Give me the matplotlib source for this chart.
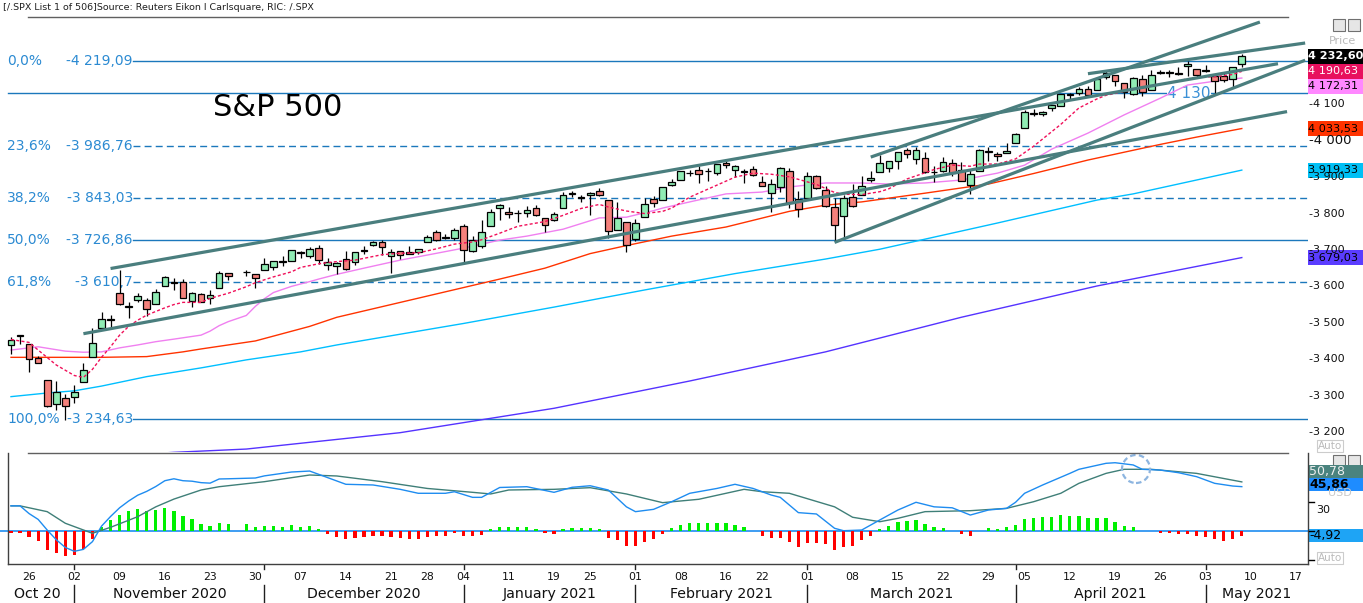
import numpy as np
import pandas as pd
import matplotlib
matplotlib.use("Agg")
import matplotlib.pyplot as plt
from matplotlib.patches import Rectangle, Ellipse
from matplotlib.transforms import blended_transform_factory

plt.rcParams['font.family'] = ['DejaVu Sans']

W, H, DPI = 1363, 603, 100

# ------------------------------------------------------------------ data
first_day, last_day = '2020-10-22', '2021-05-07'
market_holidays = ['2020-11-26', '2020-12-25', '2021-01-01', '2021-01-18', '2021-02-15', '2021-04-02']
axis_blank_days = ['2020-11-26']          # shown as an empty slot on the time axis

opens = [3438.5, 3464.9, 3441.4, 3403.2, 3342.5, 3277.2, 3293.6,
         3296.2, 3336.3, 3406.5, 3485.7, 3508.3,
         3583.0, 3543.3, 3563.2, 3562.7, 3552.6,
         3600.2, 3610.3, 3612.1, 3559.4, 3579.3,
         3566.8, 3594.5, 3635.5, 3638.6,
         3634.2, 3645.9, 3653.8, 3668.3, 3670.9,
         3694.7, 3683.1, 3706.0, 3659.1, 3656.1,
         3675.3, 3666.4, 3696.2, 3713.7, 3722.4,
         3684.3, 3698.1, 3693.4, 3694.0,
         3723.0, 3750.0, 3736.2, 3733.3,
         3764.6, 3698.0, 3712.2, 3764.7, 3815.1,
         3803.1, 3801.6, 3802.2, 3815.0, 3788.7,
         3781.9, 3816.2, 3857.5, 3844.2,
         3851.7, 3863.0, 3836.8, 3755.8, 3778.1,
         3731.2, 3791.8, 3840.3, 3836.7, 3878.3,
         3892.6, 3910.5, 3920.8, 3916.4, 3911.7,
         3939.6, 3918.5, 3915.9, 3921.2,
         3885.6, 3857.1, 3873.7, 3915.8, 3839.7,
         3842.5, 3903.6, 3864.0, 3818.5, 3793.6,
         3844.4, 3851.9, 3892.0, 3915.5, 3924.5,
         3943.0, 3973.6, 3949.6, 3953.5, 3913.1,
         3916.5, 3937.6, 3919.9, 3879.3, 3917.1,
         3969.3, 3963.3, 3967.3, 3992.8,
         4034.4, 4075.6, 4074.3, 4090.0, 4096.1,
         4124.7, 4130.1, 4141.6, 4139.8, 4174.1,
         4179.8, 4159.2, 4128.4, 4170.5, 4138.8,
         4185.0, 4188.3, 4185.1, 4206.1, 4198.1,
         4192.0, 4179.0, 4177.1, 4169.1, 4210.3]
highs = [3460.5, 3466.5, 3441.4, 3409.5, 3342.5, 3341.1, 3304.9,
         3330.1, 3389.5, 3486.3, 3529.1, 3521.6,
         3646.0, 3557.2, 3581.2, 3569.0, 3593.7,
         3628.5, 3623.1, 3619.1, 3585.2, 3581.2,
         3589.8, 3642.3, 3635.5, 3644.3,
         3634.2, 3678.5, 3671.0, 3682.7, 3699.2,
         3697.4, 3708.5, 3712.4, 3678.5, 3665.9,
         3697.6, 3695.3, 3711.3, 3725.1, 3726.7,
         3702.9, 3698.3, 3711.2, 3703.8,
         3740.5, 3756.1, 3744.6, 3760.2,
         3770.0, 3737.8, 3783.0, 3811.6, 3826.7,
         3817.9, 3810.8, 3821.0, 3823.6, 3788.7,
         3804.5, 3859.8, 3861.5, 3852.3,
         3859.2, 3870.9, 3836.8, 3830.5, 3778.1,
         3784.3, 3843.1, 3847.5, 3872.4, 3894.6,
         3915.8, 3918.4, 3931.5, 3926.0, 3937.2,
         3950.4, 3933.6, 3922.0, 3930.4,
         3902.9, 3896.0, 3928.7, 3925.0, 3861.1,
         3914.5, 3906.4, 3874.5, 3843.7, 3851.7,
         3881.1, 3903.8, 3917.4, 3960.3, 3945.0,
         3970.1, 3981.0, 3983.9, 3969.6, 3930.1,
         3955.3, 3949.1, 3942.1, 3919.5, 3978.2,
         3981.8, 3968.0, 3994.4, 4020.6,
         4083.4, 4086.2, 4083.1, 4098.2, 4129.5,
         4131.8, 4148.0, 4151.7, 4173.5, 4191.3,
         4180.8, 4159.2, 4175.0, 4179.6, 4194.2,
         4194.2, 4193.4, 4201.5, 4218.8, 4198.1,
         4209.4, 4179.0, 4187.7, 4202.7, 4238.0]
lows = [3415.3, 3440.5, 3364.9, 3388.7, 3268.9, 3259.8, 3233.9,
        3279.7, 3336.3, 3405.2, 3485.7, 3484.3,
        3547.5, 3511.9, 3557.0, 3518.6, 3552.6,
        3600.2, 3588.7, 3567.3, 3543.8, 3556.9,
        3552.8, 3594.5, 3617.8, 3629.3,
        3594.4, 3645.9, 3644.8, 3657.2, 3670.9,
        3678.9, 3678.8, 3660.5, 3645.2, 3633.4,
        3645.8, 3659.6, 3688.6, 3710.9, 3685.8,
        3636.5, 3676.2, 3689.3, 3689.3,
        3723.0, 3723.3, 3730.2, 3726.9,
        3662.7, 3695.1, 3705.3, 3764.7, 3783.6,
        3789.0, 3776.5, 3791.5, 3792.9, 3749.6,
        3780.4, 3816.2, 3845.1, 3830.4,
        3797.2, 3847.8, 3732.5, 3755.8, 3694.1,
        3725.6, 3791.8, 3816.7, 3836.7, 3874.9,
        3892.6, 3902.6, 3884.9, 3890.4, 3905.8,
        3923.9, 3900.4, 3885.0, 3903.1,
        3874.7, 3805.6, 3859.6, 3814.0, 3789.5,
        3842.5, 3868.6, 3818.9, 3723.3, 3730.2,
        3819.3, 3851.9, 3885.7, 3915.5, 3915.2,
        3923.5, 3953.4, 3935.7, 3910.9, 3886.8,
        3914.2, 3901.8, 3889.1, 3853.5, 3917.1,
        3943.3, 3944.4, 3967.0, 3992.8,
        4034.4, 4068.1, 4068.3, 4082.5, 4095.5,
        4114.8, 4124.4, 4120.9, 4139.8, 4170.8,
        4150.5, 4118.4, 4126.4, 4123.7, 4138.8,
        4182.4, 4176.2, 4181.8, 4176.8, 4174.9,
        4188.0, 4128.6, 4160.9, 4147.3, 4201.6]
closes = [3453.49, 3465.39, 3400.97, 3390.68, 3271.03, 3310.11, 3269.96,
          3310.24, 3369.16, 3443.44, 3510.45, 3509.44,
          3550.50, 3545.53, 3572.66, 3537.01, 3585.15,
          3626.91, 3609.53, 3567.79, 3581.87, 3557.54,
          3577.59, 3635.41, 3629.65, 3638.35,
          3621.63, 3662.45, 3669.01, 3666.72, 3699.12,
          3691.96, 3702.25, 3672.82, 3668.10, 3663.46,
          3647.49, 3694.62, 3701.17, 3722.48, 3709.41,
          3694.92, 3687.26, 3690.01, 3703.06,
          3735.36, 3727.04, 3732.04, 3756.07,
          3700.65, 3726.86, 3748.14, 3803.79, 3824.68,
          3799.61, 3801.19, 3809.84, 3795.54, 3768.25,
          3798.91, 3851.85, 3853.07, 3841.47,
          3855.36, 3849.62, 3750.77, 3787.38, 3714.24,
          3773.86, 3826.31, 3830.17, 3871.74, 3886.83,
          3915.59, 3911.23, 3909.88, 3916.38, 3934.83,
          3932.59, 3931.33, 3913.97, 3906.71,
          3876.50, 3881.37, 3925.43, 3829.34, 3811.15,
          3901.82, 3870.29, 3819.72, 3768.47, 3841.94,
          3821.35, 3875.44, 3898.81, 3939.34, 3943.34,
          3968.94, 3962.71, 3974.12, 3915.46, 3913.10,
          3940.59, 3910.52, 3889.14, 3909.52, 3974.54,
          3971.09, 3958.55, 3972.89, 4019.87,
          4077.91, 4073.94, 4079.95, 4097.17, 4128.80,
          4127.99, 4141.59, 4124.66, 4170.42, 4185.47,
          4163.26, 4134.94, 4173.42, 4134.98, 4180.17,
          4187.62, 4186.72, 4183.18, 4211.47, 4181.17,
          4192.66, 4164.66, 4167.59, 4201.62, 4232.60]

# moving averages (date, value)
ma_fast = [('2020-10-22', 3454), ('2020-10-26', 3446), ('2020-10-27', 3425), ('2020-10-29', 3384),
           ('2020-11-02', 3355), ('2020-11-03', 3350), ('2020-11-04', 3372), ('2020-11-05', 3405),
           ('2020-11-06', 3434), ('2020-11-09', 3466), ('2020-11-10', 3490), ('2020-11-11', 3507),
           ('2020-11-12', 3521), ('2020-11-16', 3541), ('2020-11-17', 3550), ('2020-11-18', 3556),
           ('2020-11-20', 3556), ('2020-11-23', 3567), ('2020-11-25', 3581), ('2020-11-27', 3599),
           ('2020-11-30', 3610), ('2020-12-02', 3626), ('2020-12-04', 3640), ('2020-12-07', 3652),
           ('2020-12-09', 3662), ('2020-12-11', 3668), ('2020-12-15', 3672), ('2020-12-18', 3687),
           ('2020-12-22', 3691), ('2020-12-24', 3692), ('2020-12-29', 3703), ('2020-12-31', 3716),
           ('2021-01-05', 3722), ('2021-01-06', 3728), ('2021-01-08', 3746), ('2021-01-12', 3765),
           ('2021-01-15', 3778), ('2021-01-20', 3795), ('2021-01-22', 3814), ('2021-01-26', 3825),
           ('2021-01-27', 3818), ('2021-01-29', 3807), ('2021-02-02', 3800), ('2021-02-04', 3806),
           ('2021-02-05', 3815), ('2021-02-09', 3845), ('2021-02-12', 3878), ('2021-02-17', 3900),
           ('2021-02-19', 3911), ('2021-02-23', 3908), ('2021-02-25', 3901), ('2021-02-26', 3894),
           ('2021-03-02', 3880), ('2021-03-04', 3858), ('2021-03-05', 3853), ('2021-03-09', 3852),
           ('2021-03-11', 3860), ('2021-03-12', 3868), ('2021-03-16', 3895), ('2021-03-18', 3912),
           ('2021-03-19', 3921), ('2021-03-23', 3933), ('2021-03-25', 3930), ('2021-03-26', 3936),
           ('2021-03-30', 3936), ('2021-04-01', 3950), ('2021-04-06', 3985), ('2021-04-08', 4025),
           ('2021-04-09', 4045), ('2021-04-13', 4090), ('2021-04-15', 4115), ('2021-04-16', 4125),
           ('2021-04-20', 4135), ('2021-04-22', 4145), ('2021-04-23', 4150), ('2021-04-27', 4160),
           ('2021-04-29', 4170), ('2021-04-30', 4174), ('2021-05-04', 4176), ('2021-05-06', 4182),
           ('2021-05-07', 4190.63)]
ma_20 = [('2020-10-22', 3425), ('2020-10-27', 3434), ('2020-10-30', 3422), ('2020-11-03', 3419),
         ('2020-11-05', 3420), ('2020-11-09', 3431), ('2020-11-11', 3439), ('2020-11-13', 3448),
         ('2020-11-17', 3455), ('2020-11-20', 3466), ('2020-11-23', 3477), ('2020-11-24', 3492),
         ('2020-11-25', 3503), ('2020-11-27', 3520), ('2020-11-30', 3545), ('2020-12-01', 3566),
         ('2020-12-02', 3583), ('2020-12-04', 3600), ('2020-12-08', 3613), ('2020-12-09', 3620),
         ('2020-12-11', 3633), ('2020-12-16', 3650), ('2020-12-22', 3672), ('2020-12-28', 3686),
         ('2021-01-04', 3705), ('2021-01-08', 3727), ('2021-01-13', 3738), ('2021-01-20', 3757),
         ('2021-01-26', 3788), ('2021-01-29', 3790), ('2021-02-03', 3808), ('2021-02-04', 3815),
         ('2021-02-09', 3832), ('2021-02-16', 3854), ('2021-02-22', 3859), ('2021-02-25', 3873),
         ('2021-03-03', 3884), ('2021-03-09', 3884), ('2021-03-12', 3881), ('2021-03-18', 3884),
         ('2021-03-24', 3892), ('2021-03-30', 3911), ('2021-04-05', 3933), ('2021-04-08', 3977),
         ('2021-04-14', 4021), ('2021-04-20', 4071), ('2021-04-26', 4117), ('2021-04-29', 4153),
         ('2021-05-05', 4167), ('2021-05-07', 4172.31)]
ma_50 = [('2020-10-22', 3405), ('2020-11-05', 3405), ('2020-11-12', 3407), ('2020-11-18', 3420),
         ('2020-11-20', 3428), ('2020-11-25', 3439), ('2020-11-30', 3450), ('2020-12-03', 3470),
         ('2020-12-08', 3490), ('2020-12-11', 3515), ('2020-12-21', 3550), ('2020-12-30', 3585),
         ('2021-01-08', 3620), ('2021-01-15', 3650), ('2021-01-25', 3690), ('2021-01-29', 3712),
         ('2021-02-05', 3738), ('2021-02-16', 3763), ('2021-02-25', 3806), ('2021-03-03', 3823),
         ('2021-03-09', 3832), ('2021-03-18', 3856), ('2021-03-29', 3881), ('2021-04-06', 3910),
         ('2021-04-14', 3947), ('2021-04-26', 3990), ('2021-04-30', 4010), ('2021-05-07', 4033.53)]
ma_100 = [('2020-10-22', 3297), ('2020-10-28', 3307), ('2020-11-02', 3313), ('2020-11-05', 3326),
          ('2020-11-12', 3352), ('2020-11-20', 3376), ('2020-11-27', 3398), ('2020-12-07', 3420),
          ('2020-12-11', 3439), ('2021-01-04', 3498), ('2021-01-19', 3543), ('2021-02-02', 3590),
          ('2021-02-17', 3635), ('2021-03-03', 3675), ('2021-03-11', 3702), ('2021-03-30', 3774),
          ('2021-04-15', 3837), ('2021-04-21', 3854), ('2021-05-07', 3919.33)]
ma_200 = [('2020-11-09', 3135), ('2020-11-17', 3144), ('2020-11-27', 3153), ('2020-12-22', 3198),
          ('2021-01-19', 3265), ('2021-02-09', 3340), ('2021-03-03', 3420), ('2021-03-24', 3515),
          ('2021-04-15', 3601), ('2021-05-07', 3679.03)]

# MACD panel
macd_line = [('2020-10-22', 26), ('2020-10-23', 26), ('2020-10-26', 18), ('2020-10-27', 12),
             ('2020-10-28', 1), ('2020-10-29', -9), ('2020-10-30', -17), ('2020-11-02', -21),
             ('2020-11-03', -19), ('2020-11-04', -11), ('2020-11-05', 5), ('2020-11-06', 15),
             ('2020-11-09', 24), ('2020-11-10', 31), ('2020-11-11', 37), ('2020-11-12', 41),
             ('2020-11-13', 46), ('2020-11-16', 52), ('2020-11-17', 54), ('2020-11-18', 52),
             ('2020-11-19', 51.5), ('2020-11-20', 50), ('2020-11-23', 49.5), ('2020-11-24', 53.8),
             ('2020-11-25', 54), ('2020-11-30', 54.8), ('2020-12-01', 57), ('2020-12-04', 61),
             ('2020-12-08', 62), ('2020-12-09', 58.6), ('2020-12-14', 48.3), ('2020-12-17', 47.6),
             ('2020-12-22', 43.1), ('2020-12-24', 39), ('2020-12-30', 39), ('2020-12-31', 40.6),
             ('2021-01-05', 34.8), ('2021-01-06', 34.8), ('2021-01-08', 45), ('2021-01-13', 45.8),
             ('2021-01-19', 40), ('2021-01-21', 45.2), ('2021-01-25', 46.8), ('2021-01-27', 42.4),
             ('2021-01-29', 25), ('2021-02-01', 20), ('2021-02-03', 22.4), ('2021-02-05', 30.3),
             ('2021-02-09', 39), ('2021-02-12', 44), ('2021-02-17', 48.3), ('2021-02-19', 44),
             ('2021-02-23', 37.2), ('2021-02-24', 34.8), ('2021-02-26', 19), ('2021-03-02', 17.6),
             ('2021-03-04', 2.8), ('2021-03-05', 0.3), ('2021-03-09', 1), ('2021-03-11', 11.4),
             ('2021-03-15', 21.7), ('2021-03-17', 29.7), ('2021-03-19', 25), ('2021-03-23', 24),
             ('2021-03-25', 16.5), ('2021-03-29', 21.7), ('2021-03-31', 23.4), ('2021-04-01', 29.7),
             ('2021-04-05', 39), ('2021-04-07', 47.6), ('2021-04-12', 59.6), ('2021-04-13', 63.8),
             ('2021-04-16', 70), ('2021-04-19', 70.6), ('2021-04-21', 68.3), ('2021-04-22', 63.8),
             ('2021-04-26', 63), ('2021-04-28', 60.3), ('2021-04-30', 56.2), ('2021-05-04', 49.3),
             ('2021-05-06', 46.5), ('2021-05-07', 45.86)]
signal_line = [('2020-10-22', 26), ('2020-10-23', 26), ('2020-10-28', 20), ('2020-10-30', 8),
               ('2020-11-04', -2.4), ('2020-11-06', 3.8), ('2020-11-11', 14.8), ('2020-11-13', 25),
               ('2020-11-17', 33), ('2020-11-20', 42.4), ('2020-11-24', 45.8), ('2020-12-01', 51),
               ('2020-12-08', 57.9), ('2020-12-11', 56.9), ('2020-12-18', 51), ('2020-12-28', 44),
               ('2021-01-05', 40), ('2021-01-07', 38.3), ('2021-01-11', 42.4), ('2021-01-19', 43.1),
               ('2021-01-25', 44.8), ('2021-01-29', 38.3), ('2021-02-04', 29.3), ('2021-02-10', 32.8),
               ('2021-02-18', 43.1), ('2021-02-22', 40.6), ('2021-02-25', 39), ('2021-03-04', 25),
               ('2021-03-08', 14.2), ('2021-03-11', 9.6), ('2021-03-15', 13.1), ('2021-03-18', 20),
               ('2021-03-25', 21), ('2021-03-31', 23.4), ('2021-04-06', 30.3), ('2021-04-09', 39),
               ('2021-04-13', 49.3), ('2021-04-16', 59.6), ('2021-04-20', 63.8), ('2021-04-23', 63.8),
               ('2021-04-30', 59.6), ('2021-05-07', 50.78)]
macd_hist = [-2, -2, -6.5, -10, -19.6, -23, -26, -25, -19, -8.6, 4.5, 11.4, 16.5, 20.7, 22.4, 21, 21.7,
             23.4, 21, 15.5, 12.4, 7.2, 5.2, 8, 6.9,
             6.9, 4.5, 5.5, 5.5, 4.5, 5.9, 4.5, 5.2, 1.7, -3.1,
             -5.9, -8.3, -7.6, -6.5, -4.8, -4.8, -5.9, -7.6, -8.6, -8.6,
             -5.9, -5.2, -4.8, -2.4, -5.2, -5.2, -4.1, 1.7, 4.5, 4.5,
             4.5, 4.5, 2.4, -2.4, -3.4, 1.7, 2.8, 2.8, 2.8, 1.7,
             -7.6, -9.3, -15.5, -15.5, -11, -8.3, -3.1, 2.8, 5.9, 8,
             8, 8, 8, 8, 6.2, 3.8, 0, -5.2, -7.6, -6.9,
             -11, -16.9, -12, -12, -13.8, -19.6, -16.2, -15.5, -9.3, -4.8,
             1.7, 5.2, 9.6, 10.7, 11.4, 7.2, 3.8, 3.4, 0, -3.4,
             -4.8, 0, 2.8, 2.4, 3.8, 6.2, 12, 13.8, 14.8, 14.8,
             16.5, 15.5, 15.5, 13.1, 13.1, 13.1, 9.6, 5.5, 4.5, 0,
             0, -1.7, -1.7, -3.1, -3.1, -4.8, -5.9, -8.3, -10, -8.6,
             -4.92]

fib_pcts = ['0,0%', '23,6%', '38,2%', '50,0%', '61,8%', '100,0%']
fib_levels = [4219.09, 3986.76, 3843.03, 3726.86, 3610.7, 3234.63]
fib_texts = ['4 219,09', '3 986,76', '3 843,03', '3 726,86', '3 610,7', '3 234,63']
fib_dashed = [False, True, True, False, True, False]
extra_level, extra_text = 4130, '4 130'

# trend lines: (start date, start price, end date, end price)
trend_lines = [('2020-11-06', 3649.0, '2021-05-13', 4211.7),
               ('2020-11-03', 3469.9, '2021-05-14', 4080.1),
               ('2021-03-10', 3955.1, '2021-05-11', 4326.1),
               ('2021-03-04', 3720.7, '2021-05-18', 4221.2),
               ('2021-04-14', 4184.2, '2021-05-18', 4268.5)]

price_ticks = [3200, 3300, 3400, 3500, 3600, 3700, 3800, 3900, 4000, 4100]
price_tags = [(4232.60, '4 232,60', '#000000', 'white', 'bold'),
              (4190.63, '4 190,63', '#E8105E', 'white', 'normal'),
              (4172.31, '4 172,31', '#FF88FF', 'black', 'normal'),
              (4033.53, '4 033,53', '#FF3300', 'black', 'normal'),
              (3919.33, '3 919,33', '#00C0F5', 'black', 'normal'),
              (3679.03, '3 679,03', '#5A3CFF', 'black', 'normal')]
macd_tags = [(50.78, '50,78', '#4A837E', '#EEEEEE', 'normal'),
             (45.86, '45,86', '#1E8CFF', 'black', 'bold')]
hist_tag = (-4.92, '-4,92', '#1EA4F5', 'black', 'normal')

week_starts = ['2020-10-26', '2020-11-02', '2020-11-09', '2020-11-16', '2020-11-23', '2020-11-30',
               '2020-12-07', '2020-12-14', '2020-12-21', '2020-12-28', '2021-01-04', '2021-01-11',
               '2021-01-19', '2021-01-25', '2021-02-01', '2021-02-08', '2021-02-16', '2021-02-22',
               '2021-03-01', '2021-03-08', '2021-03-15', '2021-03-22', '2021-03-29', '2021-04-05',
               '2021-04-12', '2021-04-19', '2021-04-26', '2021-05-03', '2021-05-10', '2021-05-17']
month_names = ['Oct 20', 'November 2020', 'December 2020', 'January 2021', 'February 2021',
               'March 2021', 'April 2021', 'May 2021']
month_starts = ['2020-11-02', '2020-12-01', '2021-01-04', '2021-02-01', '2021-03-01', '2021-04-01', '2021-05-03']

source_text = '[/.SPX List 1 of 506]Source: Reuters Eikon l Carlsquare, RIC: /.SPX'
title_text = 'S&P 500'

# ------------------------------------------------------------------ helpers
axis_holidays = [h for h in market_holidays if h not in axis_blank_days]
trading_days = pd.bdate_range(first_day, last_day, freq='C', holidays=market_holidays)


def slot(d):
    d = np.atleast_1d(np.array(d, dtype='datetime64[D]'))
    return np.busday_count(np.datetime64(first_day), d, holidays=axis_holidays).astype(float)


def series(pairs):
    ds, vs = zip(*pairs)
    return slot(list(ds)), np.array(vs, float)


def fx(px):
    return px / W


def fy(py):
    return 1 - py / H


SLOT_PX, X0_PX, AX_RIGHT = 9.05, 11.0, 1308.0
xlim = (-X0_PX / SLOT_PX, (AX_RIGHT - X0_PX) / SLOT_PX)

fig = plt.figure(figsize=(W / DPI, H / DPI), dpi=DPI)
fig.patch.set_facecolor('white')

ax = fig.add_axes([0, fy(452), fx(AX_RIGHT), (452 - 15) / H])
axm = fig.add_axes([0, fy(564), fx(AX_RIGHT), (564 - 453) / H])
for a in (ax, axm):
    a.set_axis_off()
    a.set_xlim(*xlim)
ppx = 0.364
ax.set_ylim(4219.09 - (452 - 61) / ppx, 4219.09 + (61 - 15) / ppx)
mpx = 0.967
axm.set_ylim(-(564 - 531) / mpx, (531 - 453) / mpx)

FIB_LINE = '#1B78BC'
FIB_TEXT = '#2B8AD2'

# ------------------------------------------------------------------ price panel
ytr = ax.get_yaxis_transform()
for pct, lvl, txt, dashed in zip(fib_pcts, fib_levels, fib_texts, fib_dashed):
    ax.plot([133 / AX_RIGHT, 1], [lvl, lvl], transform=ytr, color=FIB_LINE, lw=1.0,
            ls=(0, (5, 3)) if dashed else '-', zorder=1)
    ax.text(7 / AX_RIGHT, lvl, pct, transform=ytr, ha='left', va='center', color=FIB_TEXT, fontsize=10)
    ax.text(133 / AX_RIGHT, lvl, '-' + txt, transform=ytr, ha='right', va='center', color=FIB_TEXT, fontsize=10)
ax.plot([8 / AX_RIGHT, 1], [extra_level, extra_level], transform=ytr, color=FIB_LINE, lw=1.0, zorder=1)
ax.text(1167 / AX_RIGHT, extra_level, extra_text, transform=ytr, ha='left', va='center', color='#3A90D6',
        fontsize=11, zorder=1.5, bbox=dict(fc='white', ec='none', pad=0.3))

fig.text(fx(213), fy(107), title_text, fontsize=22, color='black', ha='left', va='center')

# moving averages
for pairs, col, ls, lw, z in [(ma_200, '#5533FF', '-', 1.0, 2), (ma_100, '#00BFFF', '-', 1.0, 2),
                              (ma_50, '#FF3300', '-', 1.0, 2), (ma_20, '#F080F0', '-', 1.0, 2),
                              (ma_fast, '#F0105A', (0, (2.2, 1.6)), 1.0, 5)]:
    xs, vs = series(pairs)
    ax.plot(xs, vs, color=col, ls=ls, lw=lw, zorder=z)

# candles
xs_c = slot(trading_days.strftime('%Y-%m-%d').tolist())
ax.vlines(xs_c, lows, highs, color='black', lw=0.9, zorder=3)
for xi, o, c in zip(xs_c, opens, closes):
    lo = min(o, c)
    h = max(abs(c - o), 1.6)
    ax.add_patch(Rectangle((xi - 0.37, lo), 0.74, h, fc='#90ECB4' if c >= o else '#F4817C',
                           ec='black', lw=0.9, zorder=4))

# trend lines
for d0, p0, d1, p1 in trend_lines:
    ax.plot(np.concatenate([slot(d0), slot(d1)]), [p0, p1], color='#4A7E7E', lw=2.3,
            solid_capstyle='butt', zorder=6)

# ------------------------------------------------------------------ MACD panel
hist = np.array(macd_hist)
axm.axhline(0, color='#1E8CF0', lw=1.2, zorder=1)
axm.bar(xs_c, hist, width=0.36, color=np.where(hist >= 0, '#00F000', '#FF0000'), zorder=2)
for pairs, col in [(signal_line, '#3F7F78'), (macd_line, '#1E8CF0')]:
    xs, vs = series(pairs)
    axm.plot(xs, vs, color=col, lw=1.0, zorder=3)

circ = Ellipse((fx(1136), fy(469)), 28 / W, 28 / H, transform=fig.transFigure, fill=False,
               ec='#8DB5E0', lw=1.6, ls=(0, (2.5, 1.5)))
fig.add_artist(circ)

# ------------------------------------------------------------------ frames
GRAY = '#606060'


def fline(x0, y0, x1, y1, col=GRAY, lw=1.0):
    fig.add_artist(plt.Line2D([fx(x0), fx(x1)], [fy(y0), fy(y1)], color=col, lw=lw,
                              transform=fig.transFigure))


fline(28, 17, 1288, 17)
fline(28, 453, 1288, 453)
fline(8, 453, 8, 564, col='#404040')
fline(8, 564, 1308, 564, col='#404040')
fline(1308, 453, 1308, 564, col='#404040')

fig.text(fx(3), fy(7), source_text, fontsize=6.8, color='#202020', ha='left', va='center')


# ------------------------------------------------------------------ right-hand price scale
def py_of(a, v):
    return H - a.transData.transform((0, v))[1]


for t in price_ticks:
    fs = 9.5 if t == 4000 else 8
    fig.text(fx(1309), fy(py_of(ax, t)), '-' + f'{t:,}'.replace(',', ' '), fontsize=fs,
             color='#101010', ha='left', va='center')

prev = -1e9
for val, txt, bg, fg, wt in price_tags:
    yc = max(py_of(ax, val), prev + 15)
    prev = yc
    fig.add_artist(Rectangle((fx(1308), fy(yc + 7.5)), fx(W - 1308), 15 / H, transform=fig.transFigure,
                             fc=bg, ec='none'))
    fig.text(fx(1308.5), fy(yc), txt, fontsize=8.1, color=fg, fontweight=wt, ha='left', va='center')

fig.text(fx(1342), fy(41), 'Price', fontsize=8, color='#BBBBBB', ha='center', va='center')
for yy in (446, 558):
    fig.text(fx(1330), fy(yy), 'Auto', fontsize=7.5, color='#BBBBBB', ha='center', va='center',
             bbox=dict(fc='white', ec='#CCCCCC', lw=0.8, pad=0.8))

# window buttons
for (bx, by) in [(1333, 19), (1348, 19), (1333, 455), (1348, 455)]:
    fig.add_artist(Rectangle((fx(bx), fy(by + 12)), 12 / W, 12 / H, transform=fig.transFigure,
                             fc='#E6E6E6', ec='#707070', lw=0.8))

# MACD scale
fig.text(fx(1340), fy(493), 'USD', fontsize=8, color='#C8C8C8', ha='center', va='center')
for v in (30, 0, -30):
    fline(1309, py_of(axm, v), 1314, py_of(axm, v), col='black')
fig.text(fx(1316), fy(py_of(axm, 30) + 8), '30', fontsize=8, color='#101010', ha='left', va='center')

ys = [py_of(axm, v) for v, *_ in macd_tags]
y_low = ys[1] - 2
y_up = min(ys[0], y_low - 13)
for (val, txt, bg, fg, wt), yc in zip(macd_tags, [y_up, y_low]):
    fig.add_artist(Rectangle((fx(1308), fy(yc + 6.5)), fx(W - 1308), 13 / H, transform=fig.transFigure,
                             fc=bg, ec='none'))
    fig.text(fx(1309), fy(yc), txt, fontsize=9, color=fg, fontweight=wt, ha='left', va='center')
val, txt, bg, fg, wt = hist_tag
yc = py_of(axm, val)
fig.add_artist(Rectangle((fx(1308), fy(yc + 6.5)), fx(W - 1308), 13 / H, transform=fig.transFigure,
                         fc=bg, ec='none'))
fig.text(fx(1309), fy(yc), txt, fontsize=9, color=fg, ha='left', va='center')

# ------------------------------------------------------------------ time axis
xtr = axm.get_xaxis_transform()


def ay(py):
    return (564 - py) / (564 - 453)


for d in week_starts:
    xw = slot(d)[0]
    axm.text(xw, ay(577), pd.Timestamp(d).strftime('%d'), transform=xtr, ha='center', va='center',
             fontsize=7.8, color='#101010', clip_on=False)
seps = [slot(d)[0] for d in month_starts]
bounds = [xlim[0]] + seps + [xlim[1]]
for name, a0, a1 in zip(month_names, bounds[:-1], bounds[1:]):
    axm.text((a0 + a1) / 2, ay(594), name, transform=xtr, ha='center', va='center', fontsize=10.2,
             color='#101010', clip_on=False)
for s in seps:
    axm.plot([s, s], [ay(585), ay(603)], transform=xtr, color='#202020', lw=1.0, clip_on=False)
    axm.plot([s, s], [ay(565), ay(569)], transform=xtr, color='#202020', lw=1.0, clip_on=False)

fig.savefig('out.png', dpi=DPI, facecolor='white')
